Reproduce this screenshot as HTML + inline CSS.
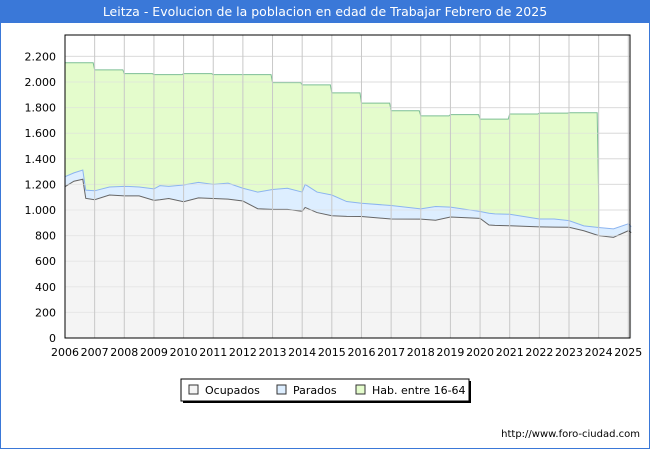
<!DOCTYPE html>
<html><head><meta charset="utf-8"><style>
body{margin:0;width:650px;height:450px;background:#fff;font-family:"DejaVu Sans","Liberation Sans",sans-serif;overflow:hidden}
#wrap{position:absolute;left:0;top:0;width:648px;height:448px;border:1px solid #3a78d8;border-top:none}
#title{position:absolute;left:0;top:0;width:650px;height:23px;background:#3a78d8;color:#fff;font-size:12.5px;line-height:23px;text-align:center}
svg{position:absolute;left:0;top:0;font-family:"DejaVu Sans","Liberation Sans",sans-serif}
</style></head><body>
<div id="wrap"></div>
<div id="title">Leitza - Evolucion de la poblacion en edad de Trabajar Febrero de 2025</div>
<svg id="chart" width="650" height="450"></svg>
<script>
const years=[2006,2007,2008,2009,2010,2011,2012,2013,2014,2015,2016,2017,2018,2019,2020,2021,2022,2023,2024,2025];
const yTicks=[0,200,400,600,800,1000,1200,1400,1600,1800,2000,2200];
const habYears=[2006,2007,2008,2009,2010,2011,2012,2013,2014,2015,2016,2017,2018,2019,2020,2021,2022,2023];
const habValues=[2150,2095,2065,2058,2065,2058,2058,1995,1978,1915,1835,1775,1735,1745,1710,1750,1757,1760];
const seriesT=[2006,2006.3,2006.6,2006.7,2007,2007.5,2008,2008.5,2009,2009.2,2009.5,2010,2010.5,2011,2011.5,2012,2012.5,2013,2013.5,2014,2014.1,2014.5,2015,2015.5,2016,2017,2018,2018.5,2019,2020,2020.3,2020.5,2021,2022,2022.5,2023,2023.5,2024,2024.5,2025,2025.1];
const ocupados=[1182,1225,1240,1091,1080,1117,1110,1110,1075,1080,1090,1065,1095,1090,1085,1070,1010,1005,1005,990,1020,980,955,950,949,930,929,920,945,935,883,880,877,868,866,865,838,800,786,838,824];
const parados=[1260,1290,1312,1155,1150,1180,1185,1180,1165,1190,1185,1195,1216,1200,1210,1170,1140,1160,1170,1140,1200,1140,1117,1066,1053,1035,1009,1027,1022,988,975,970,967,930,930,917,876,863,853,892,870];
const X0=65,X1=630,Y0=338,Y1=35;
const xs=t=>X0+(t-2006)*(628.3-65)/19;
const ys=v=>Y0-v*0.128;
const svg=document.getElementById('chart');const NS='http://www.w3.org/2000/svg';
function mk(tag,attrs){const e=document.createElementNS(NS,tag);for(const k in attrs)e.setAttribute(k,attrs[k]);svg.appendChild(e);return e;}
yTicks.forEach(v=>{const l=mk('line',{x1:X0,x2:X1,y1:ys(v),y2:ys(v),stroke:'#dddddd','stroke-width':1});

});
const last=habYears[habYears.length-1];
let hp=`M${xs(2006)},${Y0}`;
habYears.forEach((y,i)=>{const nv=i+1<habValues.length?habValues[i+1]:habValues[i];hp+=` L${xs(y)},${ys(habValues[i])} L${xs(y+0.95)},${ys(habValues[i])}`;if(i+1<habValues.length)hp+=` L${xs(y+1)},${ys(nv)}`;});
hp+=` L${xs(last+1)},${ys(1100)} L${xs(last+1)},${ys(860)} L${xs(last+1)},${Y0} Z`;
const ha=mk('path',{d:hp,fill:'#e4fccc',stroke:'#7cbf94','stroke-width':1});


function area(vals,fill,stroke,name){let d=`M${xs(seriesT[0])},${Y0}`;seriesT.forEach((t,i)=>{d+=` L${xs(t)},${ys(vals[i])}`;});d+=` L${xs(seriesT[seriesT.length-1])},${Y0} Z`;
const p=mk('path',{d:d,fill:fill,stroke:'none'});
let l='';seriesT.forEach((t,i)=>{l+=(i?' L':'M')+xs(t)+','+ys(vals[i]);});
const q=mk('path',{d:l,fill:'none',stroke:stroke,'stroke-width':1});}
area(parados,'#ddeeff','#8cb4f0','parados');
area(ocupados,'#f4f4f4','#666666','ocupados');
yTicks.forEach(v=>{const l=mk('line',{x1:X0,x2:X1,y1:ys(v),y2:ys(v),stroke:'#dddddd','stroke-width':1,'stroke-opacity':0.6});

});
years.forEach(y=>{const l=mk('line',{x1:xs(y),x2:xs(y),y1:Y1,y2:Y0,stroke:'#c8c8c8','stroke-width':1});


const t=mk('text',{x:xs(y),y:356,'font-size':11,'text-anchor':'middle',fill:'#000'});t.textContent=y;

});
yTicks.forEach(v=>{const t=mk('text',{x:56,y:ys(v)+4,'font-size':11,'text-anchor':'end',fill:'#000'});t.textContent=v.toLocaleString('de-DE');

});
const bx=mk('rect',{x:X0,y:Y1,width:X1-X0,height:Y0-Y1,fill:'none',stroke:'#000','stroke-width':1});


const lg=mk('rect',{x:181,y:379,width:288,height:22,fill:'#fff',stroke:'#000','stroke-width':1});


mk('line',{x1:470,y1:381,x2:470,y2:403,stroke:'#000','stroke-width':2});
mk('line',{x1:183,y1:402,x2:470,y2:402,stroke:'#000','stroke-width':2});
[['Ocupados','#f4f4f4',189],['Parados','#ddeeff',277],['Hab. entre 16-64','#e4fccc',356]].forEach(([n,c,x])=>{
const r=mk('rect',{x:x,y:385,width:9,height:9,fill:c,stroke:'#333','stroke-width':1});


const t=mk('text',{x:x+16,y:394,'font-size':11,fill:'#000'});t.textContent=n;

});
const u=mk('text',{x:640,y:437,'font-size':10,'text-anchor':'end',fill:'#000'});u.textContent='http://www.foro-ciudad.com';


</script>
</body></html>
